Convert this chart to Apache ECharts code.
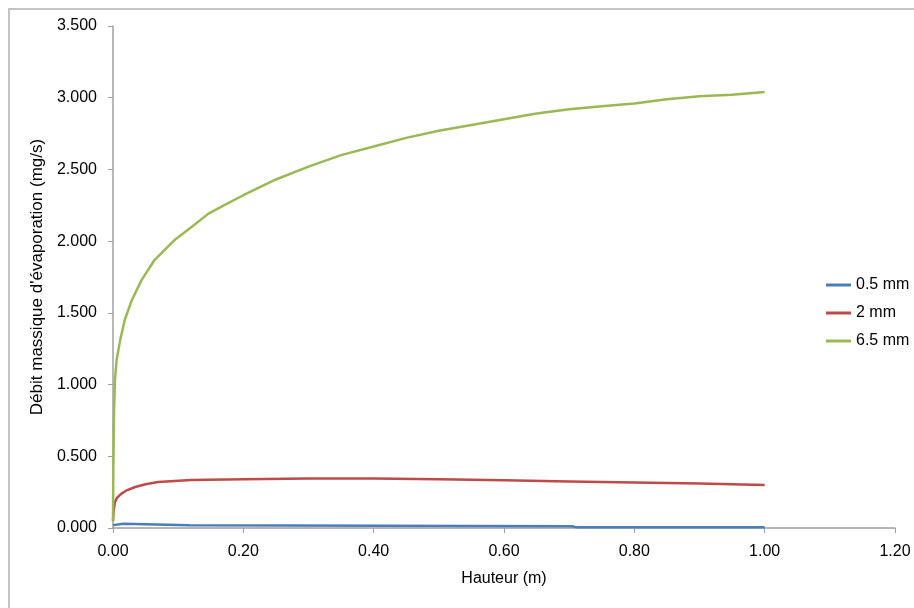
<!DOCTYPE html>
<html><head><meta charset="utf-8">
<script src="https://cdn.jsdelivr.net/npm/echarts@6/dist/echarts.min.js"></script>
<style>html,body{margin:0;padding:0;background:#fff}#c{width:914px;height:608px}</style>
</head><body><div id="c"></div>
<script>
const seriesNames = ['0.5 mm', '2 mm', '6.5 mm'];
const seriesColors = ['#4a7ebb', '#be4b48', '#98b954'];
const xTitle = 'Hauteur (m)';
const yTitle = "Débit massique d'évaporation (mg/s)";

const blue = [[0,0.02],[0.002,0.03],[0.016,0.03],[0.018,0.02],[0.117,0.02],[0.119,0.012],[0.705,0.012],[0.71,0.006],[1.0,0.006]];
const red = [[0,0.05],[0.001,0.12],[0.003,0.18],[0.006,0.21],[0.013,0.24],[0.02,0.26],[0.034,0.286],[0.05,0.305],[0.069,0.32],[0.12,0.335],[0.2,0.34],[0.3,0.345],[0.4,0.345],[0.5,0.34],[0.6,0.333],[0.7,0.325],[0.8,0.317],[0.9,0.31],[1.0,0.30]];
const green = [[0,0.05],[0.0005,0.4],[0.0015,0.8],[0.003,1.03],[0.0055,1.17],[0.011,1.31],[0.018,1.45],[0.029,1.59],[0.044,1.73],[0.064,1.87],[0.095,2.01],[0.121,2.10],[0.146,2.19],[0.17,2.25],[0.2,2.32],[0.25,2.43],[0.3,2.52],[0.35,2.60],[0.4,2.66],[0.45,2.72],[0.5,2.77],[0.55,2.81],[0.6,2.85],[0.65,2.89],[0.7,2.92],[0.75,2.94],[0.8,2.96],[0.85,2.99],[0.9,3.01],[0.95,3.02],[1.0,3.04]];
const allData = [blue, red, green];

const font = 'Liberation Sans, Arial, sans-serif';
const axisColor = '#a0a0a0';
const chart = echarts.init(document.getElementById('c'));
chart.setOption({
  animation: false,
  graphic: [{type:'rect', shape:{x:9,y:9,width:1000,height:1000}, style:{fill:'none', stroke:'#c4c4c4', lineWidth:2}, silent:true}],
  grid: {left:113, right:19, top:26, bottom:80, containLabel:false},
  legend: {
    orient:'vertical', left:821, top:272, itemWidth:25, itemHeight:3, itemGap:12,
    icon:'rect',
    textStyle:{fontFamily:font, fontSize:16, color:'#000'},
    data: seriesNames
  },
  xAxis: {
    type:'value', min:0, max:1.2, interval:0.2,
    name: xTitle, nameLocation:'middle', nameGap:43,
    nameTextStyle:{fontFamily:font, fontSize:16, color:'#000'},
    axisLine:{show:true, onZero:false, lineStyle:{color:axisColor, width:1.5}},
    axisTick:{show:true, length:5, lineStyle:{color:axisColor}},
    axisLabel:{fontFamily:font, fontSize:16, color:'#000', margin:16, formatter:v=>v.toFixed(2)},
    splitLine:{show:false}
  },
  yAxis: {
    type:'value', min:0, max:3.5, interval:0.5,
    name: yTitle, nameLocation:'middle', nameGap:67, nameRotate:90,
    nameTextStyle:{fontFamily:font, fontSize:17, color:'#000'},
    axisLine:{show:true, lineStyle:{color:axisColor, width:1.5}},
    axisTick:{show:true, length:5, lineStyle:{color:axisColor}},
    axisLabel:{fontFamily:font, fontSize:16, color:'#000', margin:16, formatter:v=>v.toFixed(3)},
    splitLine:{show:false}
  },
  series: seriesNames.map((n,i)=>({
    name:n, type:'line', data:allData[i], showSymbol:false, symbol:'none',
    lineStyle:{color:seriesColors[i], width:2.5}, itemStyle:{color:seriesColors[i]},
    smooth:false
  }))
});
</script></body></html>
